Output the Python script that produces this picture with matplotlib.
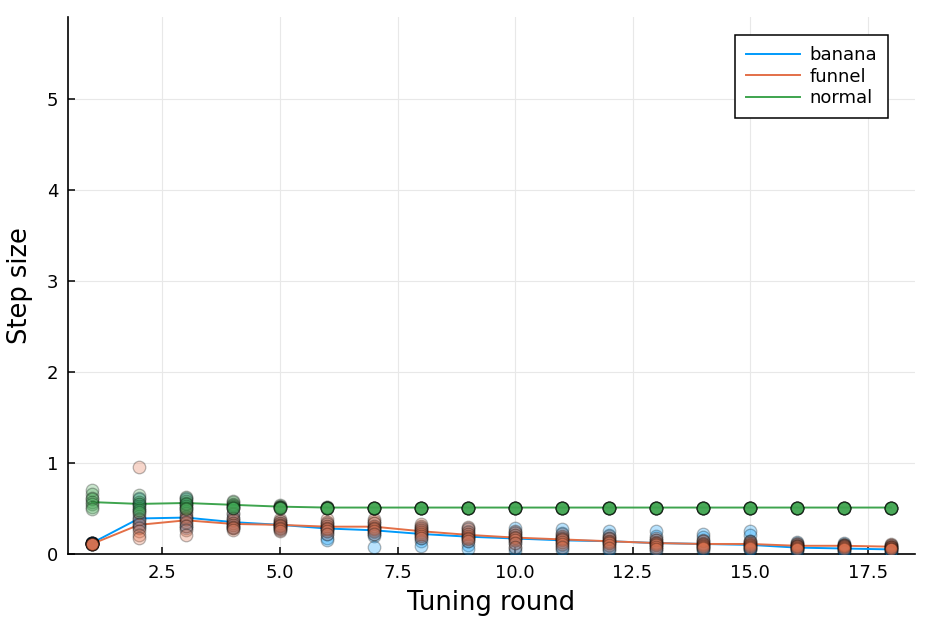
import matplotlib
matplotlib.use('Agg')
import matplotlib.pyplot as plt
import numpy as np

# tuning rounds
rounds = list(range(1, 19))

# per-chain step sizes (8 chains per round)
banana_chains = [
    [0.12, 0.12, 0.12, 0.12, 0.12, 0.12, 0.12, 0.12],
    [0.62, 0.55, 0.48, 0.42, 0.38, 0.35, 0.32, 0.30],
    [0.62, 0.55, 0.47, 0.42, 0.38, 0.34, 0.31, 0.28],
    [0.50, 0.44, 0.40, 0.36, 0.34, 0.32, 0.30, 0.28],
    [0.36, 0.34, 0.33, 0.32, 0.31, 0.30, 0.28, 0.26],
    [0.34, 0.31, 0.29, 0.27, 0.25, 0.22, 0.18, 0.15],
    [0.34, 0.30, 0.28, 0.26, 0.24, 0.22, 0.20, 0.08],
    [0.30, 0.27, 0.25, 0.23, 0.21, 0.18, 0.14, 0.09],
    [0.28, 0.25, 0.22, 0.19, 0.17, 0.14, 0.10, 0.06],
    [0.28, 0.24, 0.21, 0.18, 0.15, 0.12, 0.07, 0.03],
    [0.27, 0.23, 0.19, 0.16, 0.13, 0.10, 0.07, 0.04],
    [0.25, 0.21, 0.17, 0.14, 0.12, 0.09, 0.06, 0.03],
    [0.25, 0.20, 0.15, 0.12, 0.10, 0.08, 0.05, 0.03],
    [0.22, 0.19, 0.14, 0.11, 0.09, 0.07, 0.05, 0.03],
    [0.25, 0.21, 0.14, 0.10, 0.08, 0.06, 0.05, 0.04],
    [0.13, 0.11, 0.09, 0.07, 0.06, 0.05, 0.04, 0.02],
    [0.12, 0.10, 0.08, 0.07, 0.05, 0.04, 0.03, 0.02],
    [0.10, 0.08, 0.07, 0.05, 0.04, 0.03, 0.02, 0.01],
]
funnel_chains = [
    [0.11, 0.11, 0.11, 0.11, 0.11, 0.11, 0.11, 0.11],
    [0.96, 0.45, 0.38, 0.33, 0.29, 0.25, 0.21, 0.17],
    [0.50, 0.45, 0.41, 0.38, 0.35, 0.31, 0.26, 0.21],
    [0.45, 0.40, 0.37, 0.34, 0.32, 0.30, 0.28, 0.26],
    [0.38, 0.36, 0.34, 0.32, 0.31, 0.29, 0.27, 0.25],
    [0.38, 0.35, 0.33, 0.31, 0.29, 0.27, 0.25, 0.22],
    [0.38, 0.36, 0.34, 0.31, 0.29, 0.27, 0.25, 0.22],
    [0.33, 0.31, 0.28, 0.26, 0.24, 0.22, 0.20, 0.18],
    [0.30, 0.27, 0.24, 0.22, 0.20, 0.18, 0.16, 0.14],
    [0.25, 0.23, 0.21, 0.19, 0.17, 0.15, 0.12, 0.08],
    [0.22, 0.20, 0.18, 0.16, 0.15, 0.13, 0.11, 0.08],
    [0.20, 0.18, 0.16, 0.14, 0.13, 0.12, 0.10, 0.07],
    [0.17, 0.15, 0.13, 0.12, 0.11, 0.10, 0.08, 0.06],
    [0.15, 0.14, 0.12, 0.11, 0.10, 0.09, 0.08, 0.07],
    [0.14, 0.13, 0.12, 0.11, 0.10, 0.09, 0.08, 0.07],
    [0.12, 0.11, 0.10, 0.09, 0.09, 0.08, 0.07, 0.06],
    [0.11, 0.10, 0.10, 0.09, 0.09, 0.08, 0.07, 0.06],
    [0.11, 0.10, 0.09, 0.08, 0.08, 0.07, 0.06, 0.05],
]
normal_chains = [
    [0.70, 0.66, 0.62, 0.60, 0.57, 0.55, 0.52, 0.49],
    [0.65, 0.60, 0.57, 0.55, 0.53, 0.51, 0.48, 0.46],
    [0.63, 0.60, 0.58, 0.56, 0.55, 0.53, 0.51, 0.49],
    [0.58, 0.57, 0.55, 0.54, 0.53, 0.52, 0.51, 0.50],
    [0.54, 0.53, 0.52, 0.52, 0.52, 0.51, 0.51, 0.51],
    [0.52, 0.52, 0.51, 0.51, 0.51, 0.51, 0.51, 0.51],
] + [[0.51] * 8 for _ in range(12)]

# averaged step size per round (the lines)
banana_mean = [0.12, 0.39, 0.40, 0.35, 0.32, 0.28, 0.26, 0.22, 0.19,
               0.17, 0.15, 0.14, 0.12, 0.11, 0.10, 0.07, 0.06, 0.05]
funnel_mean = [0.11, 0.32, 0.37, 0.33, 0.32, 0.30, 0.30, 0.25, 0.21,
               0.18, 0.16, 0.14, 0.12, 0.11, 0.11, 0.09, 0.09, 0.08]
normal_mean = [0.57, 0.55, 0.56, 0.54, 0.52, 0.51, 0.51, 0.51, 0.51,
               0.51, 0.51, 0.51, 0.51, 0.51, 0.51, 0.51, 0.51, 0.51]

series = [
    ('banana', banana_chains, banana_mean, '#009AFA'),
    ('funnel', funnel_chains, funnel_mean, '#E36F47'),
    ('normal', normal_chains, normal_mean, '#3EA44E'),
]

fig = plt.figure(figsize=(9.34, 6.23), dpi=100)
ax = fig.add_axes([0.0728, 0.1108, 0.9069, 0.8619])

for name, chains, mean, col in series:
    ax.plot(rounds, mean, color=col, lw=1.4, label=name, zorder=3)
    xs = np.repeat(rounds, len(chains[0]))
    ys = np.array(chains).ravel()
    ax.scatter(xs, ys, s=82, color=col, edgecolors='black', linewidths=0.9,
               alpha=0.28, zorder=4)

ax.set_xlim(0.49, 18.51)
ax.set_ylim(0, 5.9)
ax.set_xticks([2.5, 5.0, 7.5, 10.0, 12.5, 15.0, 17.5])
ax.set_xticklabels(['2.5', '5.0', '7.5', '10.0', '12.5', '15.0', '17.5'])
ax.set_yticks([0, 1, 2, 3, 4, 5])
ax.grid(True, color='#e8e8e8', lw=0.8)
ax.set_axisbelow(True)
for s in ['top', 'right']:
    ax.spines[s].set_visible(False)
for s in ['left', 'bottom']:
    ax.spines[s].set_linewidth(1.2)
ax.tick_params(direction='in', length=5, width=1.1, labelsize=13, pad=7)
ax.set_xlabel('Tuning round', fontsize=18.5, labelpad=6)
ax.set_ylabel('Step size', fontsize=18.5, labelpad=10)

leg = ax.legend(loc='upper right', bbox_to_anchor=(0.974, 0.976), fontsize=13,
                fancybox=False, edgecolor='black', framealpha=1,
                handlelength=3.0, borderpad=0.6, labelspacing=0.2,
                handletextpad=0.5, borderaxespad=0.3)
leg.get_frame().set_linewidth(1.1)

fig.savefig('out.png', dpi=100)
